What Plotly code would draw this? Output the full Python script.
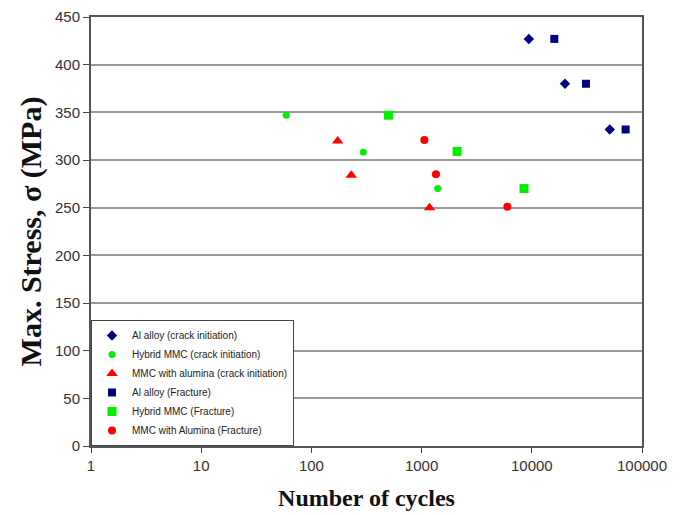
import plotly.graph_objects as go

# Data (cycles, max stress MPa)
al_crack_x = [9400, 20000, 51000]
al_crack_y = [427, 380, 332]
hyb_crack_x = [59, 296, 1400]
hyb_crack_y = [347, 308, 270]
mmc_crack_x = [173, 230, 1180]
mmc_crack_y = [320, 284, 250]
al_frac_x = [16000, 31000, 71000]
al_frac_y = [427, 380, 332]
hyb_frac_x = [500, 2100, 8500]
hyb_frac_y = [347, 309, 270]
mmc_frac_x = [1060, 1350, 6000]
mmc_frac_y = [321, 285, 251]

x_ticks = [1, 10, 100, 1000, 10000, 100000]
x_tick_labels = ["1", "10", "100", "1000", "10000", "100000"]

series = [
    ("Al alloy (crack initiation)", al_crack_x, al_crack_y, "diamond", "#000080", 8),
    ("Hybrid MMC (crack initiation)", hyb_crack_x, hyb_crack_y, "circle", "#00ee00", 7),
    ("MMC with alumina (crack initiation)", mmc_crack_x, mmc_crack_y, "triangle-up", "#ff0000", 10),
    ("Al alloy (Fracture)", al_frac_x, al_frac_y, "square", "#000080", 8),
    ("Hybrid MMC (Fracture)", hyb_frac_x, hyb_frac_y, "square", "#00ee00", 9),
    ("MMC with Alumina (Fracture)", mmc_frac_x, mmc_frac_y, "circle", "#ff0000", 8),
]

fig = go.Figure()
for name, xs, ys, sym, col, sz in series:
    fig.add_trace(go.Scatter(x=xs, y=ys, mode="markers", name=name,
                             marker=dict(symbol=sym, color=col, size=sz)))

title_font = dict(family="Liberation Serif, Times New Roman", color="#111", weight="bold")

fig.update_layout(
    width=683, height=515,
    margin=dict(l=91, r=41, t=17, b=69),
    paper_bgcolor="white", plot_bgcolor="white",
    font=dict(family="Arial, Liberation Sans", color="#333333"),
    xaxis=dict(type="log", range=[0, 5], tickvals=x_ticks, ticktext=x_tick_labels,
               showgrid=False, ticks="outside", ticklen=5, tickcolor="#444",
               showline=True, linecolor="#555", linewidth=2, mirror=True,
               tickfont=dict(size=15, color="#333"), automargin=False,
               title=dict(text="Number of cycles", standoff=16,
                          font=dict(size=24, **title_font))),
    yaxis=dict(range=[0, 450], dtick=50, showgrid=True, gridcolor="#9a9a9a", gridwidth=1.5,
               ticks="outside", ticklen=6, tickcolor="#444",
               showline=True, linecolor="#555", linewidth=2, mirror=True,
               tickfont=dict(size=15, color="#333"), zeroline=False, automargin=False,
               title=dict(text="Max. Stress, σ (MPa)", standoff=4,
                          font=dict(size=30, **title_font))),
    legend=dict(x=0, y=0, xanchor="left", yanchor="bottom", bgcolor="white",
                bordercolor="#444", borderwidth=1, font=dict(size=10, color="#222"),
                itemsizing="trace", itemwidth=30, tracegroupgap=0),
)

fig.write_html("out.html")
